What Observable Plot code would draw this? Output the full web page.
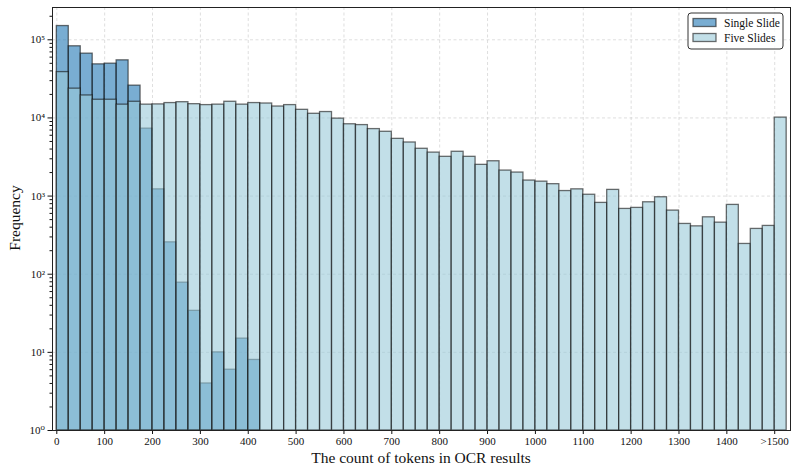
<!DOCTYPE html>
<html><head><meta charset="utf-8">
<script src="https://cdn.jsdelivr.net/npm/d3@7"></script>
<script src="https://cdn.jsdelivr.net/npm/@observablehq/plot@0.6"></script>
<style>body{margin:0;background:#fff}#chart{position:relative;width:797px;height:475px}</style>
</head><body><div id="chart"></div>
<script>
const binWidth = 25;
const seriesNames = ["Single Slide", "Five Slides"];
// counts per 25-token bin, starting at 0 (last five-slide bin is ">1500")
const singleCounts = [150000, 82600, 66500, 48500, 49500, 54600, 25900, 7300, 1220, 256, 78, 34, 4, 10, 6, 15, 8];
const fiveCounts = [38600, 23700, 19400, 17100, 17100, 14800, 16100, 14800, 14900, 15500,
  15900, 15000, 14600, 14800, 16100, 14800, 15500, 15300, 14000, 14600,
  12700, 11300, 11900, 9800, 8300, 8100, 7200, 6650, 5400, 4850,
  4030, 3600, 3180, 3690, 3180, 2510, 2790, 2120, 2000, 1580,
  1530, 1420, 1160, 1220, 1040, 818, 1200, 685, 706, 833,
  966, 652, 440, 410, 535, 457, 771, 244, 380, 415, 10100];
const xTicks = [0, 100, 200, 300, 400, 500, 600, 700, 800, 900, 1000, 1100, 1200, 1300, 1400, 1500];
const xTickLabels = ["0", "100", "200", "300", "400", "500", "600", "700", "800", "900", "1000", "1100", "1200", "1300", "1400", ">1500"];
const yTicks = [1, 10, 100, 1000, 10000, 100000];
const yTickLabels = ["10⁰", "10¹", "10²", "10³", "10⁴", "10⁵"];
const colors = ["#1f77b4", "#99cad9"];

const toBins = (arr) => arr.map((c, i) => ({x1: i * binWidth, x2: (i + 1) * binWidth, count: c}));
const singleData = toBins(singleCounts);
const fiveData = toBins(fiveCounts);
const minorTicks = [];
for (let e = 0; e <= 5; e++) for (let m = 2; m <= 9; m++) { const v = m * 10 ** e; if (v < 259000) minorTicks.push(v); }

const font = "'Liberation Serif', 'DejaVu Serif', serif";
const barStyle = {stroke: "#111", strokeOpacity: 0.6, strokeWidth: 1.3, fillOpacity: 0.6};

const chart = Plot.plot({
  width: 797, height: 475,
  marginLeft: 52, marginRight: 7, marginTop: 7, marginBottom: 45,
  style: {fontFamily: font, fontSize: "11px", background: "white", color: "#111"},
  x: {domain: [-9, 1533], label: null},
  y: {type: "log", domain: [1, 259000], label: null},
  marks: [
    Plot.gridX(xTicks, {stroke: "#c8c8c8", strokeOpacity: 0.6, strokeDasharray: "3,2.5"}),
    Plot.gridY(yTicks, {stroke: "#c8c8c8", strokeOpacity: 0.6, strokeDasharray: "3,2.5"}),
    Plot.rectY(singleData, {x1: "x1", x2: "x2", y1: 1, y2: "count", fill: colors[0], ...barStyle}),
    Plot.rectY(fiveData, {x1: "x1", x2: "x2", y1: 1, y2: "count", fill: colors[1], ...barStyle}),
    Plot.axisX(xTicks, {tickFormat: (d) => xTickLabels[xTicks.indexOf(d)], tickSize: 4, tickPadding: 3, fontSize: 11, label: null}),
    Plot.axisY(minorTicks, {tickFormat: () => "", tickSize: 2.5, label: null}),
    Plot.axisY(yTicks, {tickFormat: (d) => yTickLabels[yTicks.indexOf(d)], tickSize: 4.5, tickPadding: 3, fontSize: 11, label: null}),
    Plot.frame({stroke: "#222", strokeWidth: 1})
  ]
});
document.getElementById("chart").appendChild(chart);

const svg = d3.select(chart);
svg.append("text").attr("x", 421).attr("y", 463).attr("text-anchor", "middle")
  .style("font-family", font).style("font-size", "15.5px").attr("fill", "#111")
  .text("The count of tokens in OCR results");
svg.append("text").attr("transform", "translate(20,218) rotate(-90)").attr("text-anchor", "middle")
  .style("font-family", font).style("font-size", "15.5px").attr("fill", "#111")
  .text("Frequency");

// legend
const lg = svg.append("g");
lg.append("rect").attr("x", 688).attr("y", 13).attr("width", 95).attr("height", 36).attr("rx", 3)
  .attr("fill", "white").attr("fill-opacity", 0.85).attr("stroke", "#333").attr("stroke-width", 1);
seriesNames.forEach((name, i) => {
  lg.append("rect").attr("x", 693).attr("y", 18.5 + i * 15).attr("width", 23).attr("height", 8)
    .attr("fill", colors[i]).attr("fill-opacity", 0.6).attr("stroke", "#111").attr("stroke-opacity", 0.6).attr("stroke-width", 1.3);
  lg.append("text").attr("x", 724).attr("y", 26.5 + i * 15).attr("text-anchor", "start")
    .style("font-family", font).style("font-size", "11.5px").attr("fill", "#111").text(name);
});
</script>
</body></html>
